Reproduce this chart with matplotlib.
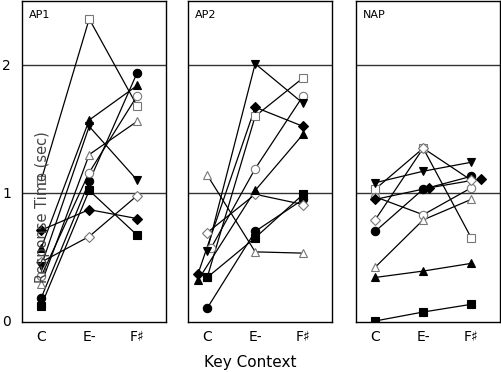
import matplotlib
matplotlib.use("Agg")
import matplotlib.pyplot as plt

categories = ["C", "E-", "F\u266f"]
panels = ["AP1", "AP2", "NAP"]
subjects = ["sq_open", "sq_fill", "ci_fill", "ci_open", "di_fill", "di_open",
            "tu_fill", "tu_open", "td_fill"]

ap1 = {
    "sq_open": [1.10, 2.36, 1.68],
    "sq_fill": [0.12, 1.02, 0.67],
    "ci_fill": [0.18, 1.09, 1.94],
    "ci_open": [0.35, 1.16, 1.76],
    "di_fill": [0.71, 0.87, 0.80],
    "di_open": [0.46, 0.66, 0.98],
    "tu_fill": [0.57, 1.57, 1.84],
    "tu_open": [0.29, 1.30, 1.56],
    "td_fill": [0.43, 1.52, 1.10],
}
ap2 = {
    "sq_open": [0.34, 1.60, 1.90],
    "sq_fill": [0.34, 0.65, 0.99],
    "ci_fill": [0.10, 0.70, 0.95],
    "ci_open": [0.57, 1.19, 1.76],
    "di_fill": [0.37, 1.67, 1.52],
    "di_open": [0.69, 0.99, 0.91],
    "tu_fill": [0.32, 1.02, 1.46],
    "tu_open": [1.14, 0.54, 0.53],
    "td_fill": [0.55, 2.01, 1.70],
}
nap = {
    "sq_open": [1.03, 1.35, 0.65],
    "sq_fill": [0.00, 0.07, 0.13],
    "ci_fill": [0.70, 1.03, 1.13],
    "ci_open": [0.97, 0.83, 1.04],
    "di_fill": [0.95, 1.04, 1.11],
    "di_open": [0.79, 1.35, 1.10],
    "tu_fill": [0.34, 0.39, 0.45],
    "tu_open": [0.42, 0.79, 0.95],
    "td_fill": [1.08, 1.17, 1.24],
}
data = [ap1, ap2, nap]

# styles
styles = {
    "sq_open": ("s", False), "sq_fill": ("s", True),
    "ci_fill": ("o", True), "ci_open": ("o", False),
    "di_fill": ("D", True), "di_open": ("D", False),
    "tu_fill": ("^", True), "tu_open": ("^", False),
    "td_fill": ("v", True),
}
# small horizontal jitter as seen in the reference
jitter = [
    {},
    {"di_fill": [-0.19, 0, 0], "tu_fill": [-0.19, 0, 0], "ci_open": [0.08, 0, 0]},
    {"di_fill": [0, 0.12, 0.2]},
]

W, H = 501, 372
fig = plt.figure(figsize=(W / 100, H / 100), dpi=100)
lefts = [22, 188, 356]
axw = 144
bottom_px = 322
top_px = 1
font = "DejaVu Sans"

for i, (name, d) in enumerate(zip(panels, data)):
    ax = fig.add_axes([lefts[i] / W, (H - bottom_px) / H, axw / W,
                       (bottom_px - top_px) / H])
    ax.set_xlim(-0.4, 2.6)
    ax.set_ylim(-0.008, 2.5)
    for g in (1, 2):
        ax.axhline(g, color="#333333", lw=1.0, zorder=1)
    for s in subjects:
        m, filled = styles[s]
        xs = [j + o for j, o in zip(range(3), jitter[i].get(s, [0, 0, 0]))]
        ms = 5 if m == "D" else 6
        ax.plot(xs, d[s], color="black", lw=0.9, zorder=2)
        ax.plot(xs, d[s], linestyle="none", marker=m, ms=ms,
                markerfacecolor="black" if filled else "white",
                markeredgecolor="black" if filled else "#777777",
                markeredgewidth=0.8, zorder=3)
    ax.set_xticks(range(3))
    ax.set_xticklabels(categories, fontsize=10, family=font)
    ax.tick_params(axis="x", length=0, pad=6)
    if i == 0:
        ax.set_yticks([0, 1, 2])
        ax.set_yticklabels(["0", "1", "2"], fontsize=10, family=font)
        ax.tick_params(axis="y", length=0, pad=8)
    else:
        ax.set_yticks([])
    for sp in ax.spines.values():
        sp.set_linewidth(1.0)
        sp.set_color("black")
    ax.text(0.05, 0.955, name, transform=ax.transAxes, fontsize=8,
            family=font, va="center", ha="left")

fig.text(250 / W, 1 - 362 / H, "Key Context", ha="center", va="center",
         fontsize=11, family=font)
fig.text(43 / W, 1 - 207 / H, "Response Time (sec)", ha="center",
         va="center", rotation=90, fontsize=10.5, family=font, color="#444444")

fig.savefig("out.png", dpi=100)
